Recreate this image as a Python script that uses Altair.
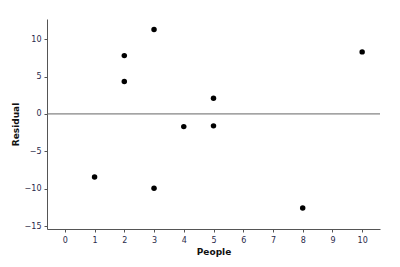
import altair as alt
import pandas as pd

people = [1, 2, 2, 3, 3, 4, 5, 5, 8, 10]
residual = [-8.45, 7.8, 4.35, 11.3, -9.95, -1.7, 2.1, -1.6, -12.6, 8.3]

df = pd.DataFrame({"People": people, "Residual": residual})
zero = pd.DataFrame({"y": [0]})

font = "DejaVu Sans"
lab = "#2a2a4a"

points = alt.Chart(df).mark_circle(size=30, color="black", opacity=1).encode(
    x=alt.X("People:Q", scale=alt.Scale(domain=[-0.6, 10.6], nice=False, zero=False),
            axis=alt.Axis(values=list(range(0, 11)), title="People", grid=False,
                          domainColor="#555", tickColor="#555", tickSize=3,
                          labelFont=font, labelFontSize=8, labelColor=lab,
                          titleFont=font, titleFontSize=9, titleFontWeight="bold",
                          titleColor="#111", labelPadding=4, titlePadding=3)),
    y=alt.Y("Residual:Q", scale=alt.Scale(domain=[-15.4, 12.7], nice=False, zero=False),
            axis=alt.Axis(values=[-15, -10, -5, 0, 5, 10], title="Residual", grid=False,
                          domainColor="#555", tickColor="#555", tickSize=3,
                          labelFont=font, labelFontSize=8, labelColor=lab,
                          titleFont=font, titleFontSize=9, titleFontWeight="bold",
                          titleColor="#111", labelPadding=3, titlePadding=4)),
)

rule = alt.Chart(zero).mark_rule(color="#666", strokeWidth=1).encode(y="y:Q")

chart = alt.layer(rule, points).properties(
    width=333, height=210,
    autosize=alt.AutoSizeParams(type="none"),
    padding={"left": 47, "top": 19, "right": 20, "bottom": 38},
    background="white",
).configure_view(stroke=None)

chart.save("out.html", embed_options={"renderer": "svg", "actions": False})
